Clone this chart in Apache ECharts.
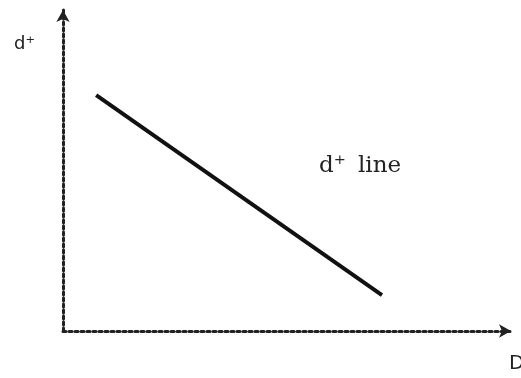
<!DOCTYPE html>
<html>
<head>
<meta charset="utf-8">
<script src="https://cdn.jsdelivr.net/npm/echarts@6/dist/echarts.min.js"></script>
<style>
  html, body { margin: 0; padding: 0; background: #fff; }
  #chart { width: 521px; height: 378px; }
</style>
</head>
<body>
<div id="chart"></div>
<script>
// d+ line endpoints (x = D, y = d+)
const lineX = [7.4, 71.2]
const lineY = [73.5, 11.2]

const chart = echarts.init(document.getElementById('chart'))

// dotted axis with an arrow head at the end
const axisLine = {
  show: true,
  symbol: ['none', 'arrow'],
  symbolSize: [10, 12],
  lineStyle: { color: '#222', width: 3, type: [3, 3] }
}

const option = {
  animation: false,
  grid: { left: 63, right: 10, top: 10, bottom: 47 },
  xAxis: {
    type: 'value', min: 0, max: 100,
    axisLine: axisLine,
    axisTick: { show: false },
    axisLabel: { show: false },
    splitLine: { show: false }
  },
  yAxis: {
    type: 'value', min: 0, max: 100,
    axisLine: axisLine,
    axisTick: { show: false },
    axisLabel: { show: false },
    splitLine: { show: false }
  },
  graphic: [
    { type: 'text', left: 14, top: 35, style: { text: 'd⁺', font: '18px "DejaVu Sans"', fill: '#222' } },
    { type: 'text', left: 319, top: 155, style: { text: 'd⁺', font: '23px "DejaVu Serif"', fill: '#222' } },
    { type: 'text', left: 358, top: 155, style: { text: 'line', font: '23px "DejaVu Serif"', fill: '#222' } },
    { type: 'text', left: 509, top: 354, style: { text: 'D', font: '20px "DejaVu Sans"', fill: '#222' } }
  ],
  series: [
    {
      type: 'line',
      data: lineX.map((x, i) => [x, lineY[i]]),
      symbol: 'none',
      lineStyle: { color: '#111', width: 4 }
    }
  ]
}

chart.setOption(option)
</script>
</body>
</html>
